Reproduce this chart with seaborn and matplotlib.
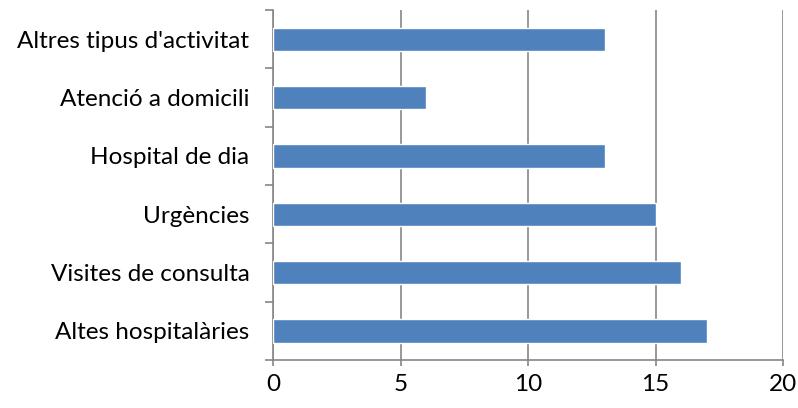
import numpy as np
import pandas as pd
import matplotlib.pyplot as plt
import seaborn as sns

# Dades del gràfic
categories = ["Altres tipus d'activitat", "Atenció a domicili", "Hospital de dia",
              "Urgències", "Visites de consulta", "Altes hospitalàries"]
valors = [13, 6, 13, 15, 16, 17]
xticks = [0, 5, 10, 15, 20]

df = pd.DataFrame({"categoria": categories, "valor": valors})

sns.set_style("white")
plt.rcParams['font.family'] = ['Lato', 'DejaVu Sans']

fig = plt.figure(figsize=(7.98, 4.08), dpi=100)
ax = fig.add_axes([273 / 798, 48 / 408, 510 / 798, 350 / 408])

sns.barplot(data=df, x="valor", y="categoria", orient="h", width=0.4,
            color="#4F81BD", saturation=1, ax=ax, zorder=3)

grey = "#868686"
ax.set_xlim(0, 20)
ax.set_ylim(len(categories) - 0.5, -0.5)
ax.set_xticks(xticks)
ax.set_xticklabels([str(t) for t in xticks])
ax.grid(axis="x", color=grey, linewidth=1.2, zorder=0)
ax.grid(axis="y", visible=False)

# ticks de categories entre barres, estil Excel
ax.set_yticks(np.arange(-0.5, len(categories), 1), minor=True)
ax.tick_params(axis="y", which="major", left=False, length=0, pad=17,
               labelsize=17.5, labelcolor="black")
ax.tick_params(axis="y", which="minor", left=True, length=6, width=1.2, color=grey)
ax.tick_params(axis="x", which="major", bottom=True, length=4, width=1.2, color=grey,
               labelsize=17.5, labelcolor="black", pad=6)

for s in ["top", "right"]:
    ax.spines[s].set_visible(False)
for s in ["left", "bottom"]:
    ax.spines[s].set_color(grey)
    ax.spines[s].set_linewidth(1.2)

ax.set_xlabel("")
ax.set_ylabel("")

fig.savefig("out.png", dpi=100)
